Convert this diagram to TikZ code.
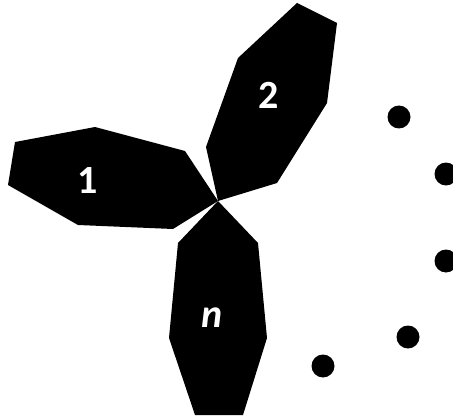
\documentclass[tikz,border=0pt]{standalone}
\usepackage{fontspec}
\setmainfont{Carlito}
\begin{document}
\begin{tikzpicture}[x=1pt,y=-1pt,
  petal/.style={fill=black,draw=none},
  lbl/.style={text=white,font=\fontsize{40}{40}\selectfont\bfseries,inner sep=0pt},
  dot/.style={circle,fill=black,minimum size=23pt,inner sep=0pt}]
\useasboundingbox (0,0) rectangle (453,420);
\fill[petal] (15,142) -- (95,127) -- (185,151) -- (218,201) -- (173,229) -- (78,225) -- (8,185) -- cycle;
\fill[petal] (297,3) -- (337,23) -- (327,103) -- (277,183) -- (218,201) -- (206,147) -- (238,58) -- cycle;
\fill[petal] (218,201) -- (258,243) -- (267,338) -- (243,415) -- (195,415) -- (169,338) -- (178,243) -- cycle;
\node[lbl] (l1) at (88,181) {1};
\node[lbl] (l2) at (269,95) {2};
\node[lbl] (ln) at (212,318) {\itshape n};
\node[dot] (d1) at (399,117) {};
\node[dot] (d2) at (446,174) {};
\node[dot] (d3) at (446,261) {};
\node[dot] (d4) at (408,337) {};
\node[dot] (d5) at (323,366) {};
\end{tikzpicture}
\end{document}
